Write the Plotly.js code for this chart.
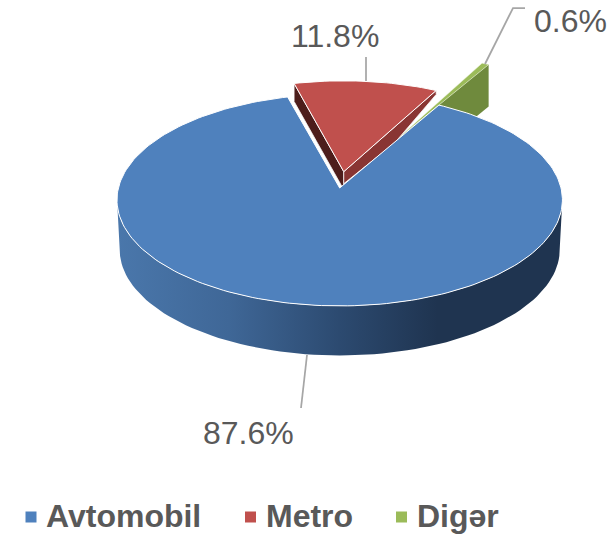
<!DOCTYPE html>
<html>
<head>
<meta charset="utf-8">
<script src="https://cdn.plot.ly/plotly-3.0.1.min.js"></script>
<style>html,body{margin:0;padding:0;background:#fff}#chart{width:609px;height:538px}</style>
</head>
<body>
<div id="chart"></div>
<script>
// ---- data ----
var categories = ['Avtomobil', 'Metro', 'Digər'];
var shares = [87.6, 11.8, 0.6];
var sliceColors = ['#4F81BD', '#C0504D', '#9BBB59'];

// ---- projection of the tilted 3D disc (pixels on a 609x538 axis) ----
var CX = 339.7, CY = 188, A = 221.3, B = 104.6, K = -0.113;
var FIRST_ANGLE = 29.5;
var EXPLODE = [0, 0.16, 0.567];
var NUDGE = [0, 0.6, 0.6];
var FONT = '"Liberation Sans", Arial, sans-serif';

function project(u, v) {
  var d = 1 + K * v;
  return [CX + A * u / d, CY + B * v / d];
}
// angle is clockwise from 12 o'clock
function slicePoint(deg, r, midDeg, ex) {
  var a = deg * Math.PI / 180, m = midDeg * Math.PI / 180;
  return project(r * Math.sin(a) + ex * Math.sin(m), -r * Math.cos(a) - ex * Math.cos(m));
}
var total = shares.reduce(function (s, v) { return s + v; }, 0);
var spans = [], cursor = FIRST_ANGLE;
shares.forEach(function (v, i) {
  var sweep = v / total * 360, from = cursor + NUDGE[i];
  spans.push({ from: from, to: from + sweep, mid: from + sweep / 2, ex: EXPLODE[i] });
  cursor += sweep;
});
function topFace(i) {
  var s = spans[i], pts = [slicePoint(0, 0, s.mid, s.ex)];
  var n = Math.max(3, Math.round((s.to - s.from) / 1.5));
  for (var j = 0; j <= n; j++) pts.push(slicePoint(s.from + (s.to - s.from) * j / n, 1, s.mid, s.ex));
  pts.push(pts[0]);
  return pts;
}
// radial wall under an edge at angle deg, depth stations [t along apex->rim, px]
function radialWall(i, deg, stations) {
  var s = spans[i];
  var o = slicePoint(0, 0, s.mid, s.ex), e = slicePoint(deg, 1, s.mid, s.ex);
  var at = function (t) { return [o[0] + (e[0] - o[0]) * t, o[1] + (e[1] - o[1]) * t]; };
  var pts = [o, e];
  stations.slice().reverse().forEach(function (st) {
    var p = at(st[0]); pts.push([p[0], p[1] + st[1]]);
  });
  pts.push(o);
  return pts;
}
function polyTrace(pts, fill, lineColor, lineWidth) {
  return {
    type: 'scatter', mode: 'lines', hoverinfo: 'skip', showlegend: false,
    x: pts.map(function (p) { return p[0]; }), y: pts.map(function (p) { return p[1]; }),
    fill: 'toself', fillcolor: fill,
    line: { color: lineColor || 'rgba(0,0,0,0)', width: lineWidth || 0 }
  };
}
// front wall of the big slice
function frontWall() {
  var up = [], down = [], DEPTH = 49.5, SHRINK = 0.988;
  for (var d = 100; d <= 260; d += 2) {
    var p = slicePoint(d, 1, 0, 0);
    up.push(p);
    down.unshift([CX + (p[0] - CX) * SHRINK, p[1] + DEPTH]);
  }
  return up.concat(down).concat([up[0]]);
}
var wallTrace = polyTrace(frontWall(), '#2C4A70');
delete wallTrace.fillcolor;
wallTrace.fillgradient = {
  type: 'horizontal',
  colorscale: [[0, '#4A77AB'], [0.25, '#3F6797'], [0.5, '#2C4A70'], [0.72, '#1F3450'], [1, '#1F3450']]
};

var traces = [
  polyTrace(radialWall(2, spans[2].to, [[0, 42], [1, 42]]), '#6F8A3D'),
  polyTrace(topFace(2), sliceColors[2], '#E8F0D8', 0.5),
  polyTrace(radialWall(1, spans[1].from, [[0, 18], [1, 18]]), '#4D1D1B', '#FFFFFF', 0.75),
  polyTrace(radialWall(1, spans[1].to, [[0, 12], [0.55, 16], [1, 4]]), '#893533', '#FFFFFF', 0.75),
  wallTrace,
  polyTrace(topFace(0), sliceColors[0], '#FFFFFF', 1),
  polyTrace(topFace(1), sliceColors[1], '#FFFFFF', 1)
];

// leader lines
var leaders = [
  [[307, 355], [301, 408]],
  [[366, 57], [366, 81]],
  [[485, 64], [513, 8], [525, 8]]
];
leaders.forEach(function (l) {
  traces.push({
    type: 'scatter', mode: 'lines', hoverinfo: 'skip', showlegend: false,
    x: l.map(function (p) { return p[0]; }), y: l.map(function (p) { return p[1]; }),
    line: { color: '#A6A6A6', width: 1.75 }
  });
});

// legend
var legendMarkerX = [31, 250.5, 401.5], legendTextX = [43.5, 264, 414.5], legendY = 517;
traces.push({
  type: 'scatter', mode: 'markers', hoverinfo: 'skip', showlegend: false,
  x: legendMarkerX, y: categories.map(function () { return legendY; }),
  marker: { symbol: 'square', size: 11, color: sliceColors, line: { width: 0 } }
});

var labelX = [248, 334.5, 570], labelY = [433, 36, 21];
var annotations = shares.map(function (v, i) {
  return {
    x: labelX[i], y: labelY[i], xref: 'x', yref: 'y', xanchor: 'center', yanchor: 'middle',
    text: v.toFixed(1) + '%', showarrow: false,
    font: { family: FONT, size: 32, color: '#595959' }
  };
}).concat(categories.map(function (c, i) {
  return {
    x: legendTextX[i], y: legendY - 1, xref: 'x', yref: 'y', xanchor: 'left', yanchor: 'middle',
    text: '<b>' + c + '</b>', showarrow: false,
    font: { family: FONT, size: 32, color: '#595959' }
  };
}));

Plotly.newPlot('chart', traces, {
  width: 609, height: 538,
  margin: { l: 0, r: 0, t: 0, b: 0, pad: 0 },
  paper_bgcolor: '#FFFFFF', plot_bgcolor: '#FFFFFF',
  showlegend: false,
  xaxis: { range: [0, 609], visible: false, fixedrange: true },
  yaxis: { range: [538, 0], visible: false, fixedrange: true },
  annotations: annotations
}, { displayModeBar: false, staticPlot: true });
</script>
</body>
</html>
